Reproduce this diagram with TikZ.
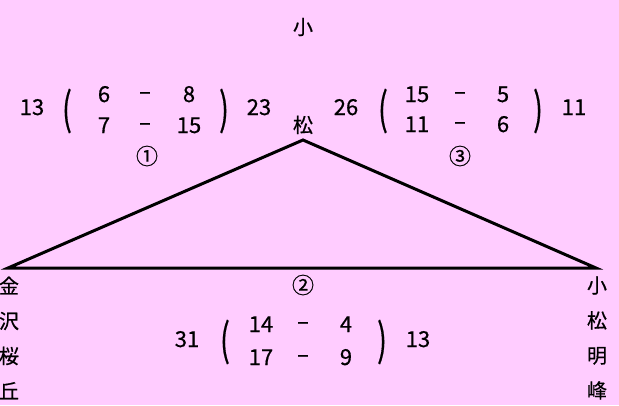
\documentclass[tikz,border=0pt]{standalone}
\usepackage{fontspec}
\usepackage{graphicx}
\setmainfont{Noto Sans CJK JP}[FakeBold=0.6]
\definecolor{bgpink}{RGB}{255,204,255}
\tikzset{
  score/.style={font=\fontsize{22}{22}\selectfont, inner sep=0pt, anchor=base},
  minus/.style={font=\fontsize{22}{22}\selectfont, inner sep=0pt, anchor=base},
  paren/.style={font=\fontsize{22}{22}\selectfont, inner sep=0pt},
  circnum/.style={font=\fontsize{22}{22}\selectfont, inner sep=0pt},
  school/.style={font=\fontsize{20}{35}\selectfont, inner sep=0pt, align=center}
}
\begin{document}
\begin{tikzpicture}[x=1pt, y=-1pt]
    % 1. Background
    \fill[bgpink] (0,0) rectangle (619,405);
    \useasboundingbox (0,0) rectangle (619,405);

    % 2. Triangle of the three schools
    \coordinate (komatsuPt) at (303,140);
    \coordinate (kanazawaPt) at (8,268);
    \coordinate (meihoPt) at (596,268);
    \draw[line width=3pt] (kanazawaPt) -- (komatsuPt) -- (meihoPt) -- cycle;

    % 3. School names (vertical)
    \node[school, font=\fontsize{20}{98}\selectfont] (komatsu) at (303,76) {小\\松};
    \node[school] (kanazawa) at (9,338) {金\\沢\\桜\\丘};
    \node[school] (meiho) at (597,338) {小\\松\\明\\峰};

    % 4. Match 1
    \node[score] (tot1L) at (32,115) {13};
    \node[paren] (par1L) at (67,111) {\scalebox{1.3}[2]{(}};
    \node[score] (g1a) at (104,102) {6};
    \node[minus] (d1a) at (145,99) {–};
    \node[score] (g1b) at (189,102) {8};
    \node[score] (g1c) at (104,133) {7};
    \node[minus] (d1b) at (145,130) {–};
    \node[score] (g1d) at (189,133) {15};
    \node[paren] (par1R) at (224,111) {\scalebox{1.3}[2]{)}};
    \node[score] (tot1R) at (259,115) {23};
    \node[circnum] (m1) at (147,156) {①};

    % 5. Match 3
    \node[score] (tot3L) at (346,115) {26};
    \node[paren] (par3L) at (383,111) {\scalebox{1.3}[2]{(}};
    \node[score] (g3a) at (417,102) {15};
    \node[minus] (d3a) at (460,99) {–};
    \node[score] (g3b) at (503,102) {5};
    \node[score] (g3c) at (417,132) {11};
    \node[minus] (d3b) at (460,129) {–};
    \node[score] (g3d) at (503,132) {6};
    \node[paren] (par3R) at (538,111) {\scalebox{1.3}[2]{)}};
    \node[score] (tot3R) at (574,115) {11};
    \node[circnum] (m3) at (460,156) {③};

    % 6. Match 2
    \node[circnum] (m2) at (303,285) {②};
    \node[score] (tot2L) at (187,347) {31};
    \node[paren] (par2L) at (225,342) {\scalebox{1.3}[2]{(}};
    \node[score] (g2a) at (261,332) {14};
    \node[minus] (d2a) at (303,329) {–};
    \node[score] (g2b) at (346,332) {4};
    \node[score] (g2c) at (261,365) {17};
    \node[minus] (d2b) at (303,362) {–};
    \node[score] (g2d) at (346,365) {9};
    \node[paren] (par2R) at (382,342) {\scalebox{1.3}[2]{)}};
    \node[score] (tot2R) at (418,347) {13};
\end{tikzpicture}
\end{document}
